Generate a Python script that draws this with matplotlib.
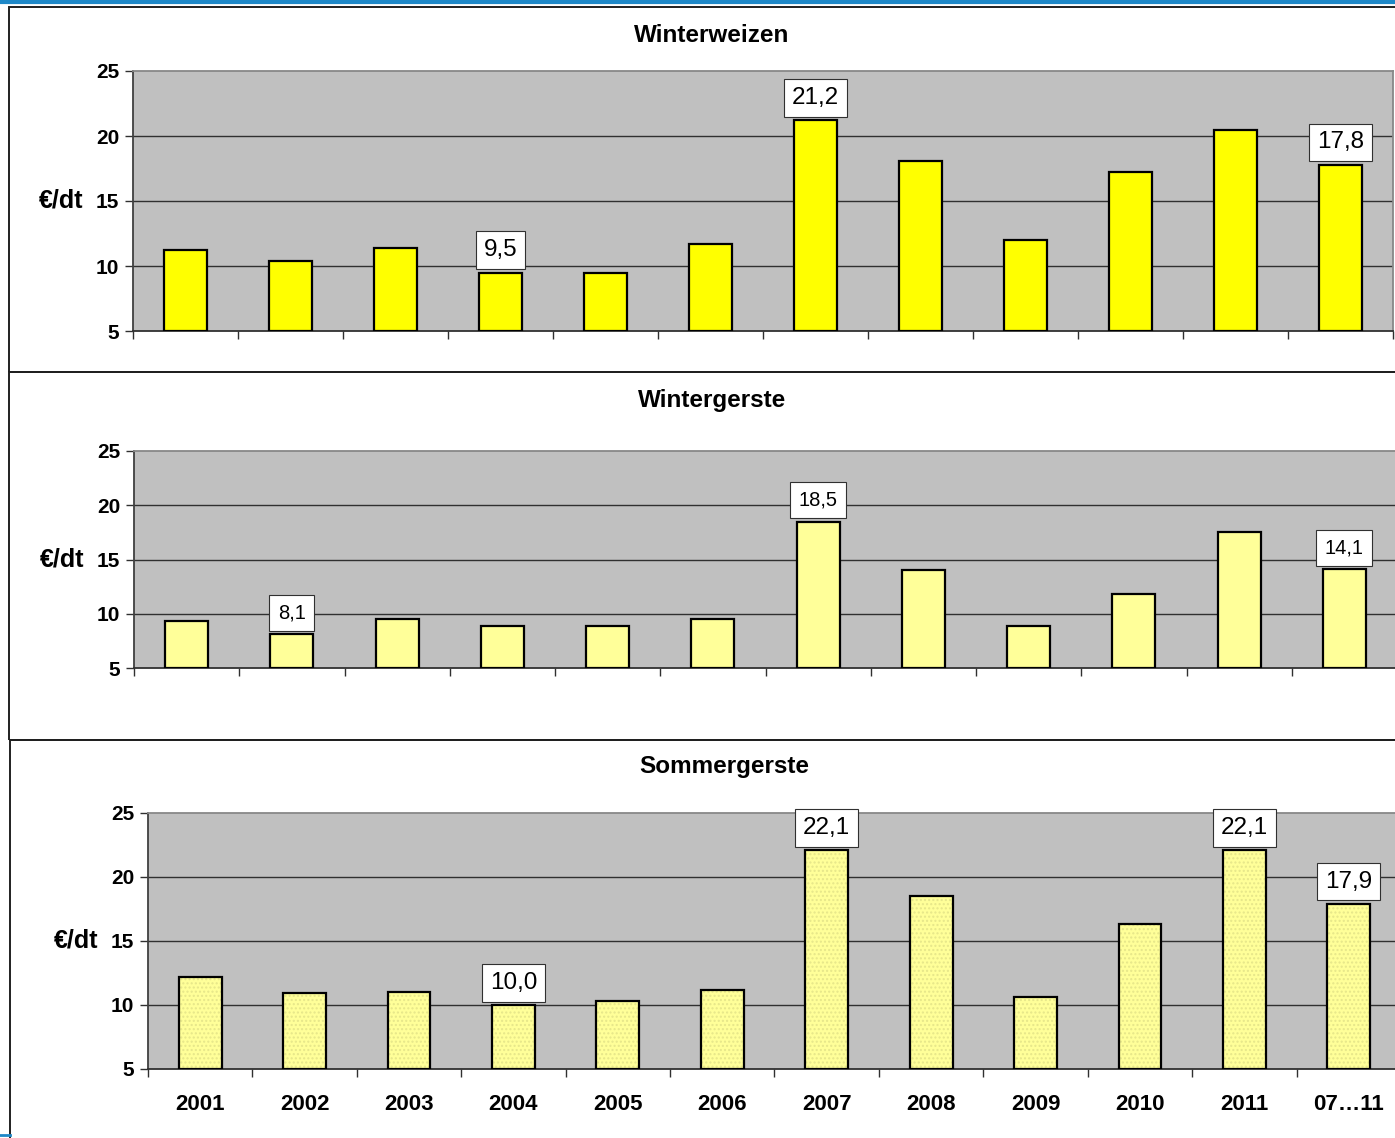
import numpy as np
import matplotlib
matplotlib.use('Agg')
import matplotlib.pyplot as plt
from matplotlib.patches import Rectangle
from matplotlib.lines import Line2D

plt.rcParams['font.family'] = ['Liberation Sans', 'DejaVu Sans']

years = ['2001', '2002', '2003', '2004', '2005', '2006', '2007', '2008',
         '2009', '2010', '2011', '07\u202611']

weizen = [11.2, 10.4, 11.4, 9.5, 9.5, 11.7, 21.2, 18.1, 12.0, 17.2, 20.5, 17.8]
wgerste = [9.3, 8.1, 9.5, 8.9, 8.9, 9.5, 18.5, 14.0, 8.9, 11.8, 17.5, 14.1]
sgerste = [12.2, 10.9, 11.0, 10.0, 10.3, 11.2, 22.1, 18.5, 10.6, 16.3, 22.1, 17.9]

# which bars get a value box
weizen_lbl = [3, 6, 11]
wgerste_lbl = [1, 6, 11]
sgerste_lbl = [3, 6, 10, 11]

W, H = 1395, 1138
fig = plt.figure(figsize=(W / 100, H / 100), dpi=100)


def px(x0, y0, x1, y1):
    # pixel box (top-left origin) -> figure fraction rect
    return [x0 / W, 1 - y1 / H, (x1 - x0) / W, (y1 - y0) / H]


# panel frames and the blue header line
for (x0, y0, x1, y1) in [(9, 7, 1400, 372), (9, 372, 1400, 740), (10, 740, 1400, 1145)]:
    fig.patches.append(Rectangle((x0 / W, 1 - y1 / H), (x1 - x0) / W, (y1 - y0) / H,
                                 transform=fig.transFigure, fill=False,
                                 edgecolor='#202020', linewidth=1.4))
fig.lines.append(Line2D([0, 1], [1 - 1.5 / H, 1 - 1.5 / H], transform=fig.transFigure,
                        color='#1E88C8', linewidth=3))
fig.lines.append(Line2D([0, 10 / W], [1 - 1135 / H, 1 - 1135 / H], transform=fig.transFigure,
                        color='#1E88C8', linewidth=2))


def panel(rect, vals, labelled, color, title, title_xy, lbl_size, lbl_pad, dotted=False, xlabels=False):
    ax = fig.add_axes(rect)
    x = np.arange(len(vals))
    ax.set_facecolor('#C0C0C0')
    if dotted:
        ax.bar(x, np.array(vals) - 5, bottom=5, width=0.41, color=color,
               hatch='....', edgecolor='#E6E68A', linewidth=0, zorder=2)
        ax.bar(x, np.array(vals) - 5, bottom=5, width=0.41, fill=False,
               edgecolor='black', linewidth=1.6, zorder=3)
    else:
        ax.bar(x, np.array(vals) - 5, bottom=5, width=0.41, color=color,
               edgecolor='black', linewidth=1.6, zorder=3)
    ax.set_ylim(5, 25)
    ax.set_xlim(-0.5, len(vals) - 0.5)
    ax.set_yticks([5, 10, 15, 20, 25])
    ax.set_yticklabels(['5', '10', '15', '20', '25'], fontsize=15, fontweight='bold')
    for yv in [10, 15, 20]:
        ax.axhline(yv, color='#303030', linewidth=1.0, zorder=1)
    ax.set_xticks(np.arange(-0.5, len(vals), 1), minor=True)
    ax.set_xticks(x)
    if xlabels:
        ax.set_xticklabels(years, fontsize=16, fontweight='bold')
    else:
        ax.set_xticklabels([])
    ax.tick_params(axis='x', which='major', length=0, pad=18)
    ax.tick_params(axis='x', which='minor', length=6, width=1, direction='out', color='#303030')
    ax.tick_params(axis='y', length=6, width=1, direction='out', color='#303030', pad=4)
    ax.spines['top'].set_color('#888888')
    ax.spines['right'].set_color('#888888')
    ax.spines['left'].set_color('#404040')
    ax.spines['bottom'].set_color('#303030')
    for s in ax.spines.values():
        s.set_linewidth(1.3)
    ax.annotate('\u20ac/dt', xy=(0, 15), xycoords=('axes fraction', 'data'), xytext=(-36, 0),
                textcoords='offset points', ha='right', va='center', fontsize=18, fontweight='bold')
    for i in labelled:
        txt = ('%.1f' % vals[i]).replace('.', ',')
        ax.annotate(txt, xy=(i, vals[i]), xytext=(0, 2.5 + lbl_pad * lbl_size),
                    textcoords='offset points', ha='center', va='bottom', fontsize=lbl_size,
                    bbox=dict(boxstyle='square,pad=%.2f' % lbl_pad, fc='white', ec='#303030', lw=0.8),
                    zorder=5, annotation_clip=False)
    fig.text(title_xy[0] / W, 1 - title_xy[1] / H, title, ha='center', va='center',
             fontsize=17.5, fontweight='bold')
    return ax


panel(px(133, 71, 1393, 331), weizen, weizen_lbl, '#FFFF00', 'Winterweizen', (712, 35), 17.5, 0.32)
panel(px(134, 451, 1397, 668), wgerste, wgerste_lbl, '#FFFF99', 'Wintergerste', (712, 400), 14.5, 0.42)
panel(px(148, 813, 1401, 1069), sgerste, sgerste_lbl, '#FFFF99', 'Sommergerste', (724, 766), 17.5, 0.32,
      dotted=True, xlabels=True)

fig.savefig('out.png', dpi=100)
